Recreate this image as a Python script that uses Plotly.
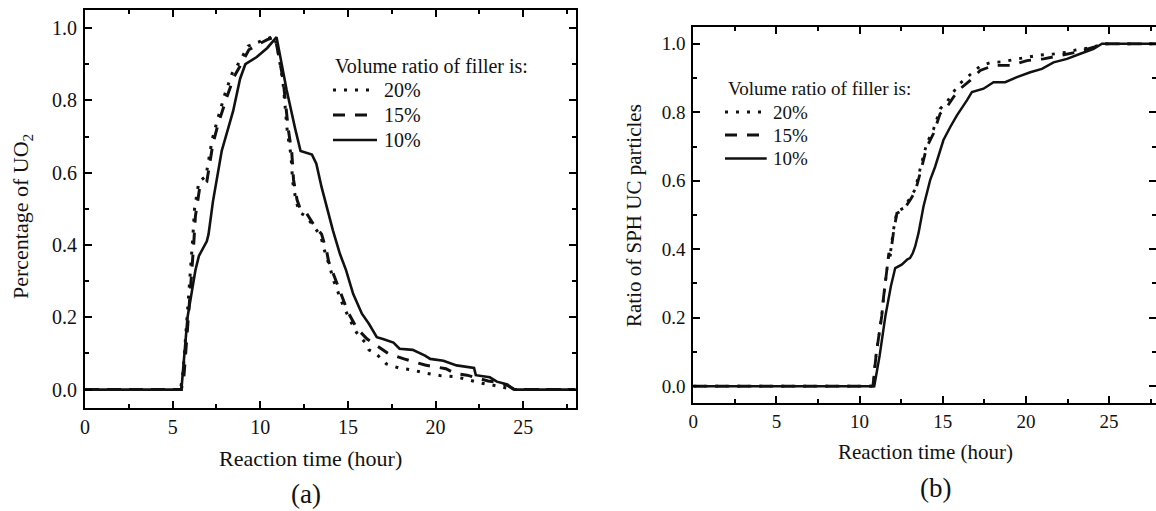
import plotly.graph_objects as go

W, H = 1156, 511

# ---------------- Panel (a): Percentage of UO2 ----------------
t_a_20 = [0, 5.45, 5.6, 5.8, 6.0, 6.15, 6.25, 6.5, 6.9, 7.25, 7.55, 8.0, 8.4, 8.8, 9.3, 9.9,
          10.4, 10.8, 11.0, 11.3, 11.55, 11.75, 11.85, 12.05, 12.25, 12.6, 13.0, 13.45, 13.75,
          13.9, 14.2, 14.75, 15.0, 15.4, 15.6, 16.0, 16.2, 16.6, 17.2, 17.9, 18.6, 19.5, 20.25,
          21.1, 21.9, 22.6, 23.3, 23.9, 24.5, 28]
u_a_20 = [0, 0, 0.05, 0.18, 0.32, 0.42, 0.5, 0.575, 0.59, 0.69, 0.745, 0.82, 0.875, 0.905, 0.95,
          0.962, 0.97, 0.978, 0.94, 0.85, 0.71, 0.65, 0.575, 0.52, 0.49, 0.48, 0.455, 0.425, 0.37,
          0.35, 0.30, 0.23, 0.205, 0.165, 0.15, 0.13, 0.11, 0.10, 0.071, 0.06, 0.055, 0.045, 0.039,
          0.036, 0.027, 0.018, 0.012, 0.006, 0.0, 0.0]

t_a_15 = [0, 5.5, 5.65, 5.85, 6.05, 6.2, 6.3, 6.55, 6.95, 7.3, 7.6, 8.1, 8.5, 8.85, 9.35, 10.0,
          10.4, 10.85, 11.0, 11.3, 11.6, 11.8, 11.9, 12.1, 12.3, 12.65, 13.0, 13.5, 13.8, 13.9,
          14.25, 14.8, 15.0, 15.45, 15.7, 16.1, 16.75, 17.3, 18.2, 18.6, 19.4, 20.1, 20.6, 21.1,
          21.8, 22.4, 23.0, 23.5, 24.1, 24.5, 28]
u_a_15 = [0, 0, 0.04, 0.16, 0.30, 0.40, 0.48, 0.56, 0.575, 0.68, 0.735, 0.81, 0.865, 0.895, 0.94,
          0.958, 0.968, 0.975, 0.94, 0.86, 0.72, 0.655, 0.58, 0.525, 0.497, 0.487, 0.46, 0.43,
          0.38, 0.355, 0.31, 0.24, 0.215, 0.175, 0.16, 0.14, 0.117, 0.10, 0.085, 0.08, 0.068,
          0.062, 0.058, 0.045, 0.04, 0.032, 0.024, 0.02, 0.012, 0.0, 0.0]

t_a_10 = [0, 5.5, 5.85, 6.3, 6.5, 6.95, 7.05, 7.3, 7.8, 8.45, 8.85, 9.15, 9.8, 10.4, 10.93,
          11.1, 11.5, 12.0, 12.3, 12.95, 13.2, 13.5, 13.8, 14.15, 14.55, 14.9, 15.3, 15.55,
          15.8, 16.2, 16.65, 17.0, 17.6, 17.95, 18.7, 19.4, 19.7, 20.45, 21.0, 21.2, 22.2,
          22.3, 23.1, 23.5, 24.1, 24.5, 28]
u_a_10 = [0, 0, 0.20, 0.33, 0.37, 0.41, 0.43, 0.52, 0.66, 0.77, 0.86, 0.90, 0.92, 0.945, 0.975,
          0.93, 0.83, 0.72, 0.66, 0.65, 0.625, 0.56, 0.505, 0.44, 0.375, 0.33, 0.265, 0.238,
          0.21, 0.182, 0.145, 0.14, 0.13, 0.113, 0.11, 0.094, 0.085, 0.08, 0.072, 0.067, 0.06,
          0.04, 0.034, 0.022, 0.014, 0.0, 0.0]

# ---------------- Panel (b): Ratio of SPH UC particles ----------------
t_b_20 = [0, 10.8, 11.0, 11.33, 11.44, 11.76, 11.84, 12.03, 12.24, 12.64, 13.04, 13.34, 13.64,
          14.04, 14.44, 14.84, 15.25, 15.65, 16.05, 16.65, 17.25, 17.85, 18.6, 19.4, 20.1, 20.8,
          21.6, 22.4, 23.0, 24.0, 24.65, 28]
r_b_20 = [0, 0, 0.095, 0.205, 0.26, 0.389, 0.385, 0.455, 0.51, 0.52, 0.55, 0.575, 0.635, 0.71,
          0.75, 0.81, 0.83, 0.86, 0.885, 0.91, 0.935, 0.945, 0.948, 0.955, 0.962, 0.967, 0.97,
          0.975, 0.982, 0.99, 1.0, 1.0]

t_b_15 = [0, 10.8, 11.0, 11.33, 11.44, 11.76, 11.84, 12.03, 12.24, 12.64, 13.04, 13.34, 13.64,
          14.04, 14.44, 14.84, 15.25, 15.65, 16.05, 16.65, 17.25, 18.05, 19.05, 20.06, 21.06,
          22.06, 23.07, 24.07, 24.67, 28]
r_b_15 = [0, 0, 0.095, 0.205, 0.26, 0.389, 0.379, 0.447, 0.505, 0.515, 0.544, 0.568, 0.622,
          0.699, 0.738, 0.796, 0.816, 0.845, 0.869, 0.893, 0.922, 0.937, 0.937, 0.951, 0.956,
          0.966, 0.976, 0.99, 1.0, 1.0]

t_b_10 = [0, 10.88, 11.2, 11.55, 11.88, 12.14, 12.53, 12.86, 13.03, 13.2, 13.34, 13.54, 13.84,
          14.24, 14.54, 15.04, 15.45, 15.85, 16.45, 16.75, 17.45, 18.05, 18.75, 19.46, 20.26,
          20.96, 21.66, 22.47, 23.27, 24.07, 24.57, 28]
r_b_10 = [0, 0, 0.088, 0.205, 0.292, 0.345, 0.355, 0.37, 0.374, 0.389, 0.408, 0.447, 0.525,
          0.602, 0.641, 0.719, 0.757, 0.791, 0.835, 0.859, 0.869, 0.888, 0.888, 0.903, 0.917,
          0.927, 0.946, 0.956, 0.971, 0.985, 1.0, 1.0]

legend_title = "Volume ratio of filler is:"
legend_labels = ["20%", "15%", "10%"]
x_title = "Reaction time (hour)"
y_title_a = "Percentage of UO<sub>2</sub>"
y_title_b = "Ratio of SPH UC particles"
x_ticks = [0, 5, 10, 15, 20, 25]
y_ticks = [0.0, 0.2, 0.4, 0.6, 0.8, 1.0]

FONT = "Liberation Serif"
INK = "#111111"
DASHES = ["3px,8px", "12px,10px", "solid"]
WIDTHS = [3, 3, 2.6]


def px(x):
    return x / W


def py(y):
    return 1 - y / H


fig = go.Figure()

series_a = [(t_a_20, u_a_20), (t_a_15, u_a_15), (t_a_10, u_a_10)]
series_b = [(t_b_20, r_b_20), (t_b_15, r_b_15), (t_b_10, r_b_10)]

for (tx, ty), lab, d, w in zip(series_a, legend_labels, DASHES, WIDTHS):
    fig.add_trace(go.Scatter(x=tx, y=ty, mode="lines", name=lab, showlegend=False,
                             line=dict(color=INK, width=w, dash=d),
                             xaxis="x", yaxis="y"))
for (tx, ty), lab, d, w in zip(series_b, legend_labels, DASHES, WIDTHS):
    fig.add_trace(go.Scatter(x=tx, y=ty, mode="lines", name=lab, showlegend=False,
                             line=dict(color=INK, width=w * 0.95, dash=d),
                             xaxis="x2", yaxis="y2"))


def xax(domain, rng, size, lw):
    return dict(domain=domain, range=rng, showgrid=False, zeroline=False,
                showline=True, linecolor="black", linewidth=lw, mirror="ticks",
                ticks="inside", ticklen=7, tickwidth=1.5, tickcolor="black",
                tickvals=x_ticks, ticktext=[str(v) for v in x_ticks],
                minor=dict(dtick=2.5, tick0=0, ticks="inside", ticklen=4,
                           tickwidth=1.5, tickcolor="black"),
                tickfont=dict(family=FONT, size=size, color=INK),
                automargin=False, fixedrange=True)


def yax(domain, anchor, size, lw):
    return dict(domain=domain, range=[-0.05, 1.05], anchor=anchor, showgrid=False,
                zeroline=False, showline=True, linecolor="black", linewidth=lw,
                mirror="ticks", ticks="inside", ticklen=7, tickwidth=1.5,
                tickcolor="black", tickvals=y_ticks,
                ticktext=[f"{v:.1f}" for v in y_ticks],
                minor=dict(dtick=0.1, tick0=0, ticks="inside", ticklen=4,
                           tickwidth=1.5, tickcolor="black"),
                tickfont=dict(family=FONT, size=size, color=INK),
                ticklabelstandoff=2, automargin=False, fixedrange=True)


RIGHT_EDGE = 1159.0  # right frame of panel (b) lies just beyond the picture edge
xa = xax([px(85), px(575.7)], [0, 28], 20, 2)
xa["anchor"] = "y"
xb = xax([px(693.3), 1.0], [0, 28 * (W - 693.3) / (RIGHT_EDGE - 693.3)], 19, 1.9)
xb["anchor"] = "y2"

fig.update_layout(
    width=W, height=H,
    margin=dict(l=0, r=0, t=0, b=0),
    paper_bgcolor="white", plot_bgcolor="white",
    showlegend=False,
    font=dict(family=FONT, color=INK),
    xaxis=xa,
    yaxis=yax([py(407.7), py(10)], "x", 20, 2),
    xaxis2=xb,
    yaxis2=yax([py(403.3), py(26.7)], "x2", 19, 1.9),
)

ann = []
shapes = []


def text(x, y, s, size, xanchor="center", angle=0):
    ann.append(dict(x=px(x), y=py(y), xref="paper", yref="paper", text=s,
                    showarrow=False, xanchor=xanchor, yanchor="middle",
                    textangle=angle, font=dict(family=FONT, size=size, color=INK)))


# axis titles and panel labels
text(310, 458, x_title, 22)
text(925.5, 451.7, x_title, 21)
text(22, 217, y_title_a, 22, angle=-90)
text(634, 216, y_title_b, 21, angle=-90)
text(306, 494, "(a)", 27)
text(935, 488, "(b)", 27)

# legends (drawn manually, positioned like the reference)
legs = [
    dict(tx=333, ty=66, rows=[90, 115, 140], x0=333, x1=377, lx=381.5, size=20),
    dict(tx=725.5, ty=88.5, rows=[112, 135, 158.5], x0=725, x1=766.7, lx=770.7, size=19),
]
for L in legs:
    text(L["tx"], L["ty"], legend_title, L["size"], xanchor="left")
    for yy, lab, d, w in zip(L["rows"], legend_labels, DASHES, WIDTHS):
        shapes.append(dict(type="line", xref="paper", yref="paper",
                           x0=px(L["x0"]), x1=px(L["x1"]), y0=py(yy), y1=py(yy),
                           line=dict(color=INK, width=w, dash=d)))
        text(L["lx"], yy, lab, L["size"], xanchor="left")

fig.update_layout(annotations=ann, shapes=shapes)

fig.write_html(
    "out.html",
    config={"displayModeBar": False},
    post_script="document.body.style.margin='0';document.body.style.overflow='hidden';",
)
